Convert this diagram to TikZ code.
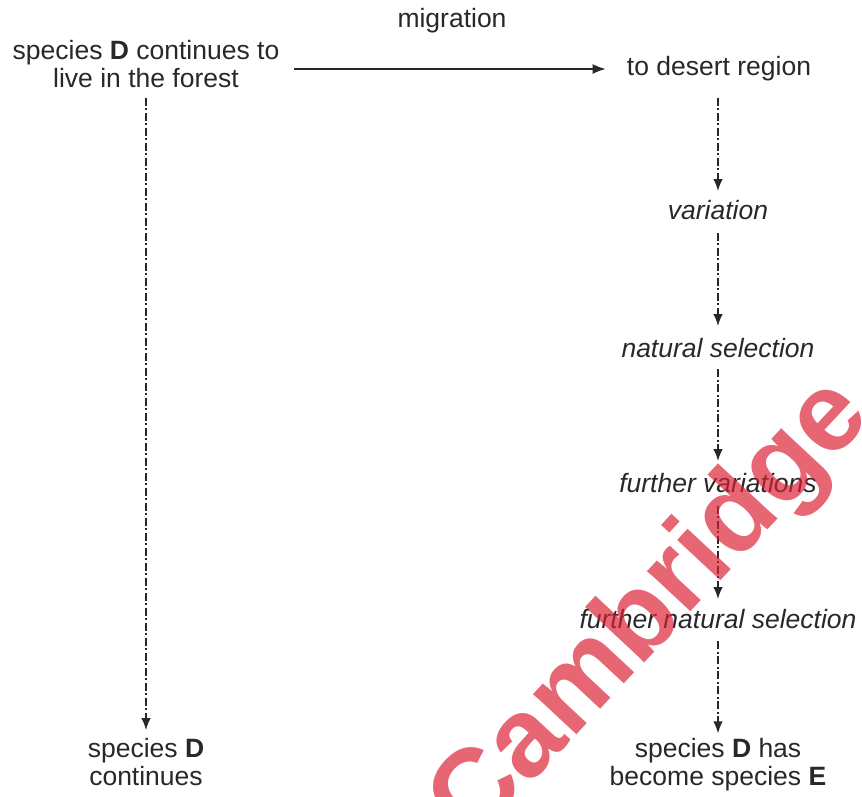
\documentclass[tikz,border=0pt]{standalone}
\usepackage{fontspec}
\setmainfont{Liberation Sans}
\usetikzlibrary{arrows.meta}
\definecolor{txt}{RGB}{40,40,40}
\definecolor{wm}{RGB}{220,30,50}
\tikzset{
  lbl/.style={inner sep=0pt, text=txt, font=\fontsize{26.5}{28}\selectfont},
  one/.style={lbl, text height=19pt, text depth=5.5pt},
  two/.style={lbl, align=center},
  solidarrow/.style={line width=1.7pt, txt, -{Latex[length=13pt,width=10pt]}},
  dasharrow/.style={line width=1.6pt, txt, dash pattern=on 8pt off 2.5pt on 2pt off 2.5pt, -{Latex[length=12pt,width=9.5pt]}, shorten <=7pt, shorten >=11pt}
}
\begin{document}
\begin{tikzpicture}[x=1pt,y=-1pt]
\useasboundingbox (0,0) rectangle (862,797);
\node[one] (mig) at (452,21) {migration};
\node[two] (A) at (146,64) {species \textbf{D} continues to\\live in the forest};
\node[one] (B) at (719,69) {to desert region};
\node[one, font=\fontsize{26.5}{28}\selectfont\itshape] (var) at (718,213) {variation};
\node[one, font=\fontsize{26.5}{28}\selectfont\itshape] (ns) at (718,351) {natural selection};
\node[one, font=\fontsize{26.5}{28}\selectfont\itshape] (fv) at (718,486) {further variations};
\node[one, font=\fontsize{26.5}{28}\selectfont\itshape] (fns) at (718,622) {further natural selection};
\node[two] (Dc) at (146,762) {species \textbf{D}\\continues};
\node[two] (E) at (718,765) {species \textbf{D} has\\become species \textbf{E}};

\draw[solidarrow, shorten <=14pt, shorten >=21pt] (A.east |- B.center) -- (B.west);
\draw[dasharrow, shorten <=10pt, shorten >=8pt] (A.south) -- (A.south |- Dc.north);
\draw[dasharrow, shorten <=16.5pt, shorten >=9.5pt] (B.south -| var.north) -- (var.north);
\draw[dasharrow, shorten <=7.5pt, shorten >=12.5pt] (var.south) -- (ns.north);
\draw[dasharrow, shorten <=6pt, shorten >=12.5pt] (ns.south) -- (fv.north);
\draw[dasharrow, shorten <=7.5pt, shorten >=10.5pt] (fv.south) -- (fns.north);
\draw[dasharrow, shorten <=7pt, shorten >=5pt] (fns.south) -- (fns.south |- E.north);

\node[rotate=47, inner sep=0pt, text=wm, opacity=0.68, font=\fontsize{112}{112}\selectfont\bfseries] (wmk) at (652,612) {Cambridge};
\end{tikzpicture}
\end{document}
